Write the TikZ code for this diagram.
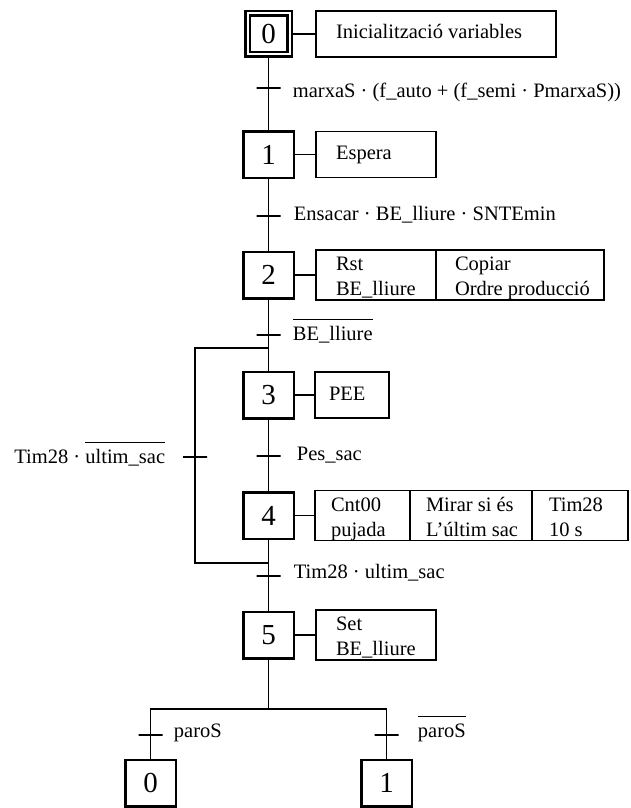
\documentclass[tikz,border=0pt]{standalone}
\usepackage{fontspec}
\setmainfont{Liberation Serif}
\usepackage{tikz}
\usetikzlibrary{positioning}

\newsavebox{\barcaixa}
\newcommand{\barrat}[1]{\sbox{\barcaixa}{#1}\rlap{\rule[20pt]{\wd\barcaixa}{1.2pt}}\usebox{\barcaixa}}
\newcommand{\accio}[3][20pt]{\makebox[#2][l]{\hspace{#1}\begin{tabular}{@{}l@{}}#3\end{tabular}}}
\newcommand{\acciodoble}[3][20pt]{\raisebox{-3pt}[\height][\depth]{\accio[#1]{#2}{#3}}}

\begin{document}
\begin{tikzpicture}[x=1pt, y=-1pt, line width=1.8pt,
  font=\fontsize{20.5}{25}\selectfont,
  etapa/.style={draw, line width=2.5pt, minimum width=50.5pt, minimum height=46.5pt, inner sep=0pt,
    font=\fontsize{29}{30}\selectfont},
  inicial/.style={etapa, double, double distance=2pt, minimum width=42pt, minimum height=41pt},
  accio/.style={draw, line width=1.8pt, minimum height=46pt, inner sep=0pt, outer sep=0pt},
  transicio/.style={draw, line width=1.8pt, minimum width=24pt, minimum height=0pt, inner sep=0pt},
  receptivitat/.style={inner sep=0pt}]
  \useasboundingbox (0,0) rectangle (630,808);

  % etapes
  \node[inicial] (s0) at (268.5,34) {0};
  \node[etapa] (s1) at (268.5,154.5) {1};
  \node[etapa] (s2) at (268.5,275) {2};
  \node[etapa] (s3) at (268.5,395) {3};
  \node[etapa] (s4) at (268.5,515.5) {4};
  \node[etapa] (s5) at (268.5,635) {5};
  \node[etapa] (f0) at (150.5,783) {0};
  \node[etapa] (f1) at (386.5,783) {1};

  % accions
  \node[accio, anchor=west] (a0) at (316,34) {\accio{240pt}{Inicialització variables}};
  \node[accio, anchor=west] (a1) at (316,154.5) {\accio{120pt}{Espera}};
  \node[accio, anchor=west] (a2a) at (316,275) {\acciodoble{120pt}{Rst\\BE\_lliure}};
  \node[accio, right=0pt of a2a] (a2b) {\acciodoble[19pt]{168pt}{Copiar\\Ordre producció}};
  \node[accio, anchor=west] (a3) at (315,395) {\accio[14pt]{74pt}{PEE}};
  \node[accio, anchor=west] (a4a) at (315,515.5) {\acciodoble[16pt]{95pt}{Cnt00\\pujada}};
  \node[accio, right=0pt of a4a] (a4b) {\acciodoble[16pt]{122pt}{Mirar si és\\L’últim sac}};
  \node[accio, right=0pt of a4b] (a4c) {\acciodoble[17pt]{96pt}{Tim28\\10 s}};
  \node[accio, anchor=west] (a5) at (316,635) {\acciodoble{120pt}{Set\\BE\_lliure}};

  % transicions
  \node[transicio] (t01) at (268.5,88) {};
  \node[transicio] (t12) at (268.5,216) {};
  \node[transicio] (t23) at (268.5,335) {};
  \node[transicio] (t34) at (268.5,456) {};
  \node[transicio] (t45) at (268.5,576) {};
  \node[transicio] (t42) at (195,457) {};
  \node[transicio] (t50) at (150.5,735) {};
  \node[transicio] (t51) at (386.5,735) {};
  \coordinate (j2) at (268.5,348);
  \coordinate (j4) at (268.5,563);
  \coordinate (div) at (268.5,709);

  % receptivitats
  \node[receptivitat, anchor=base west] (r01) at (292,97) {marxaS · (f\_auto + (f\_semi · PmarxaS))};
  \node[receptivitat, anchor=base west] (r12) at (293,220) {Ensacar · BE\_lliure · SNTEmin};
  \node[receptivitat, anchor=base west] (r23) at (292,340) {\barrat{BE\_lliure}};
  \node[receptivitat, anchor=base west] (r34) at (296,460) {Pes\_sac};
  \node[receptivitat, anchor=base west] (r45) at (293,578) {Tim28 · ultim\_sac};
  \node[receptivitat, anchor=base east] (r42) at (166,463) {Tim28 · \barrat{ultim\_sac}};
  \node[receptivitat, anchor=base west] (r50) at (173,737) {paroS};
  \node[receptivitat, anchor=base west] (r51) at (417,737) {\barrat{paroS}};

  % enllaços
  \draw (s0) -- (s1);
  \draw (s1) -- (s2);
  \draw (s2) -- (s3);
  \draw (s3) -- (s4);
  \draw (s4) -- (s5);
  \draw (s5) -- (div);
  \draw (div) -| (f0);
  \draw (div) -| (f1);
  \draw (j4) -| (t42.center) |- (j2);
  \draw (s0) -- (a0);
  \draw (s1) -- (a1);
  \draw (s2) -- (a2a);
  \draw (s3) -- (a3);
  \draw (s4) -- (a4a);
  \draw (s5) -- (a5);
\end{tikzpicture}
\end{document}
